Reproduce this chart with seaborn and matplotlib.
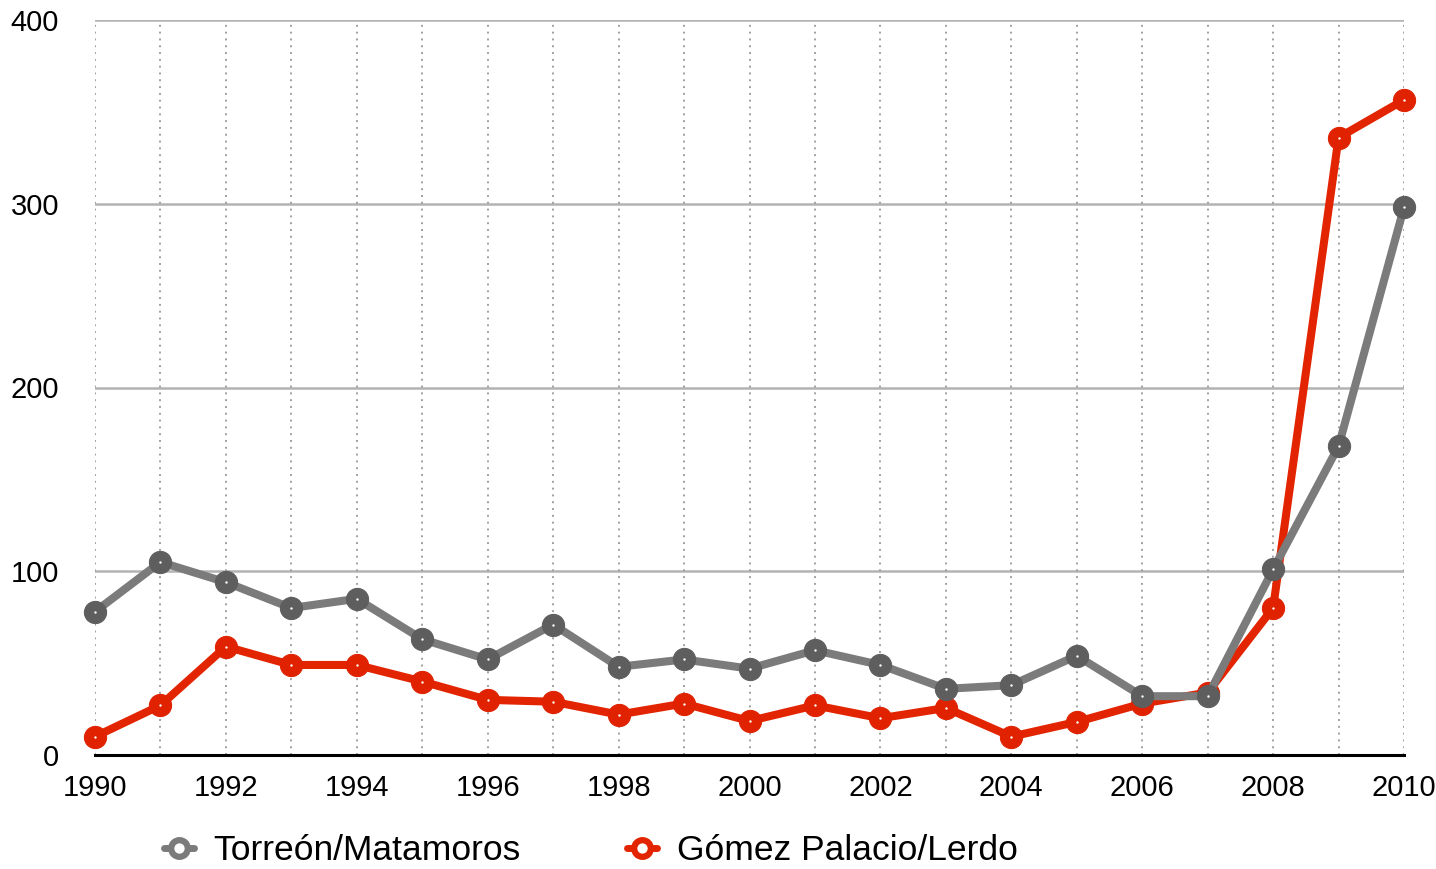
import matplotlib
matplotlib.use("Agg")
import matplotlib.pyplot as plt
import seaborn as sns
import pandas as pd
from matplotlib.lines import Line2D

years = list(range(1990, 2011))
torreon = [78, 105, 94, 80, 85, 63, 52, 71, 48, 52, 47, 57, 49, 36, 38, 54, 32, 32, 101, 168, 298]
gomez = [10, 27, 59, 49, 49, 40, 30, 29, 22, 28, 18.5, 27, 20, 25.6, 10, 18, 28, 34, 80, 336, 356.5]
series_names = ["Torreón/Matamoros", "Gómez Palacio/Lerdo"]
line_colors = ["#7b7b7b", "#e32400"]
marker_colors = ["#5e5e5e", "#e02200"]
x_tick_labels = [str(y) for y in range(1990, 2011, 2)]
y_ticks = [0, 100, 200, 300, 400]

sns.set_style("white")
plt.rcParams['font.family'] = ['Liberation Sans', 'DejaVu Sans']

df = pd.DataFrame({
    "year": years * 2,
    "value": torreon + gomez,
    "serie": [series_names[0]] * len(years) + [series_names[1]] * len(years),
})

fig = plt.figure(figsize=(14.36, 8.69), dpi=100)
ax = fig.add_axes([95/1436, 1-755/869, (1404-95)/1436, (755-20)/869])

# draw red first, gray on top
for name, lc, mc, z in [(series_names[1], line_colors[1], marker_colors[1], 3),
                         (series_names[0], line_colors[0], marker_colors[0], 4)]:
    sub = df[df.serie == name]
    sns.lineplot(data=sub, x="year", y="value", ax=ax, color=lc, linewidth=5.8,
                 marker="o", markersize=16, markerfacecolor=mc, markeredgecolor=mc,
                 zorder=z, clip_on=False, legend=False)
    sns.scatterplot(data=sub, x="year", y="value", ax=ax, color="white", s=3,
                    linewidth=0, zorder=z + 0.5, clip_on=False, legend=False)

ax.set_xlim(1990, 2010)
ax.set_ylim(0, 400)
ax.set_xticks(range(1990, 2011, 2))
ax.set_xticklabels(x_tick_labels)
ax.set_yticks(y_ticks)
ax.set_yticklabels([str(v) for v in y_ticks])
ax.set_xlabel("")
ax.set_ylabel("")

for v in y_ticks[1:]:
    ax.axhline(v, color="#b3b3b3", linewidth=1.8, zorder=1)
for yr in years:
    ax.axvline(yr, color="#a0a0a0", linewidth=1.4, linestyle=(0, (1, 2.5)), zorder=1)

for s in ["top", "right", "left"]:
    ax.spines[s].set_visible(False)
ax.spines["bottom"].set_color("black")
ax.spines["bottom"].set_linewidth(2.2)
ax.spines["bottom"].set_zorder(2)

ax.tick_params(axis="both", which="both", length=0, labelsize=21, colors="black")
ax.tick_params(axis="x", pad=14)
ax.tick_params(axis="y", pad=26)

handles = [Line2D([0], [0], color=line_colors[i], linewidth=5, marker="o", markersize=12,
                  markerfacecolor="white", markeredgecolor=line_colors[i], markeredgewidth=4.5)
           for i in range(2)]
leg = fig.legend(handles, series_names, loc="center left", bbox_to_anchor=(132/1436, 1-851/869),
                 ncol=2, frameon=False, fontsize=25.5, handlelength=0.85, handletextpad=0.55,
                 columnspacing=3.0)
for t in leg.get_texts():
    t.set_color("black")

fig.savefig("out.png", dpi=100)
